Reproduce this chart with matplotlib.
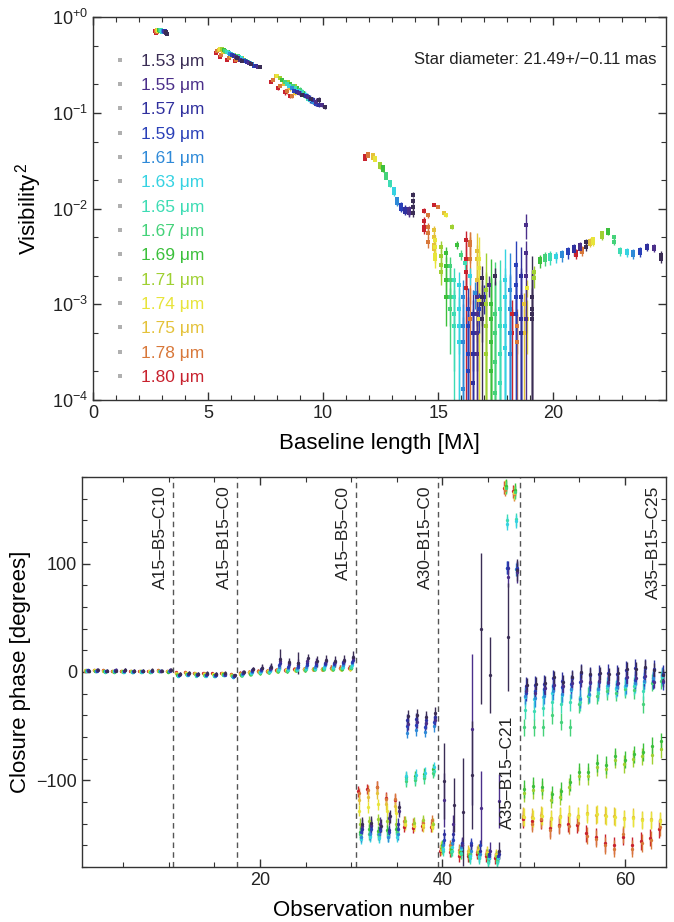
import matplotlib
matplotlib.use("Agg")

import matplotlib.pyplot as plt
import numpy as np
from matplotlib.lines import Line2D
from matplotlib.ticker import FixedLocator, FixedFormatter, MultipleLocator, LogLocator, NullFormatter

plt.rcParams["font.family"] = ["Liberation Sans", "DejaVu Sans"]
plt.rcParams["mathtext.fontset"] = "custom"
plt.rcParams["mathtext.rm"] = "Liberation Sans"
plt.rcParams["mathtext.it"] = "Liberation Sans:italic"
plt.rcParams["mathtext.bf"] = "Liberation Sans:bold"

# spectral channels (micron) and their colours
WAVELENGTHS = [1.53, 1.55, 1.57, 1.59, 1.61, 1.63, 1.65, 1.67, 1.69, 1.71, 1.74, 1.75, 1.78, 1.80]
WL_COLORS = ["#3a2d55", "#4b2f8a", "#30309e", "#2a40b8", "#2f8ad8", "#35d2e2", "#3ddcb4",
             "#45d27a", "#3cc03c", "#9fd032", "#e8e43a", "#e4c23a", "#d8783a", "#c8222e"]
WL_LABELS = ["%.2f \u03bcm" % w for w in WAVELENGTHS]

# ---- squared visibilities: one row per observation, columns follow WAVELENGTHS
BASELINES_M = [4.88, 4.95, 9.6, 9.9, 10.5, 11.1, 13.9, 14.5, 15.0, 15.4,
               21.3, 21.3, 21.3, 21.3, 25.9, 25.9, 25.9, 25.9, 26.7,
               29.2, 29.2, 29.2, 29.2, 32.8, 32.8, 37.8, 37.8]
V2_ROWS = [
    [0.70, 0.70, 0.71, 0.71, 0.72, 0.72, 0.73, 0.73, 0.74, 0.74, 0.74, 0.73, 0.72, 0.71],
    [0.67, 0.68, 0.68, 0.69, 0.69, 0.70, 0.70, 0.71, 0.71, 0.72, 0.72, 0.71, 0.69, 0.68],
    [0.37, 0.38, 0.39, 0.40, 0.41, 0.42, 0.43, 0.44, 0.45, 0.46, 0.46, 0.45, 0.44, 0.42],
    [0.35, 0.36, 0.37, 0.38, 0.39, 0.40, 0.41, 0.42, 0.43, 0.43, 0.44, 0.43, 0.40, 0.38],
    [0.32, 0.33, 0.34, 0.35, 0.36, 0.37, 0.38, 0.39, 0.39, 0.40, 0.40, 0.39, 0.37, 0.36],
    [0.30, 0.30, 0.31, 0.31, 0.32, 0.33, 0.34, 0.35, 0.36, 0.37, 0.37, 0.37, 0.36, 0.35],
    [0.155, 0.16, 0.165, 0.17, 0.18, 0.19, 0.20, 0.21, 0.22, 0.23, 0.24, 0.24, 0.22, 0.21],
    [0.14, 0.145, 0.15, 0.155, 0.16, 0.17, 0.18, 0.19, 0.20, 0.21, 0.21, 0.20, 0.19, 0.18],
    [0.135, 0.13, 0.135, 0.14, 0.15, 0.155, 0.165, 0.175, 0.18, 0.19, 0.19, 0.18, 0.17, 0.165],
    [0.115, 0.12, 0.12, 0.125, 0.13, 0.135, 0.14, 0.15, 0.16, 0.17, 0.17, 0.16, 0.15, 0.15],
    [0.012, 0.0098, 0.0096, 0.0104, 0.012, 0.015, 0.018, 0.022, 0.026, 0.028, 0.033, 0.035, 0.036, 0.034],
    [0.009, 0.0094, 0.0100, 0.0108, 0.0125, 0.016, 0.019, 0.023, 0.027, 0.029, 0.034, 0.036, 0.037, 0.035],
    [0.014, 0.0092, 0.0093, 0.0100, 0.0115, 0.0145, 0.0175, 0.021, 0.025, 0.027, 0.032, 0.034, 0.035, 0.033],
    [0.0105, 0.0090, 0.0098, 0.0102, 0.0118, 0.0150, 0.0180, 0.0215, 0.0255, 0.0275, 0.0325, 0.0345, 0.0355, 0.0335],
    [0.0019, 0.0012, 0.0008, 0.0009, 0.0012, 0.0016, 0.0018, 0.0025, 0.0034, 0.0040, 0.0047, 0.0060, 0.0085, 0.0095],
    [0.0012, 0.0008, 0.0005, 0.0006, 0.0006, 0.0009, 0.0012, 0.0018, 0.0025, 0.0032, 0.0040, 0.0050, 0.0065, 0.0075],
    [0.0007, 0.0005, 0.0003, 0.0003, 0.0004, 0.0006, 0.0008, 0.0012, 0.0018, 0.0026, 0.0033, 0.0042, 0.0055, 0.0065],
    [0.0010, 0.0003, 0.00015, 0.0002, 0.00013, 0.0004, 0.0006, 0.0009, 0.0012, 0.0022, 0.0030, 0.0038, 0.0045, 0.0060],
    [0.0020, 0.0016, 0.0012, 0.0009, 0.0013, 0.0020, 0.0027, 0.0033, 0.0042, 0.0065, 0.0085, 0.0090, 0.0105, 0.0110],
    [0.0009, 0.0034, 0.0012, 0.0016, 0.0009, 0.0012, 0.0006, 0.0005, 0.0007, 0.0010, 0.0024, 0.0030, 0.0045, 0.0047],
    [0.0008, 0.0020, 0.0007, 0.0012, 0.0005, 0.0006, 0.0003, 0.00025, 0.0004, 0.0006, 0.0011, 0.0018, 0.0042, 0.0030],
    [0.0007, 0.0007, 0.0005, 0.0008, 0.0003, 0.00035, 0.00015, 0.00012, 0.0002, 0.0003, 0.0007, 0.0012, 0.0007, 0.0022],
    [0.0012, 0.0068, 0.0020, 0.0026, 0.0014, 0.0018, 0.0009, 0.0008, 0.0010, 0.0014, 0.0030, 0.0036, 0.0030, 0.0015],
    [0.0045, 0.0042, 0.0040, 0.0037, 0.0034, 0.0032, 0.0033, 0.0032, 0.0030, 0.0022, 0.0015, 0.0010, 0.0006, 0.0008],
    [0.0040, 0.0038, 0.0036, 0.0034, 0.0032, 0.0031, 0.0030, 0.0029, 0.0028, 0.0019, 0.0007, 0.0005, 0.0004, 0.0005],
    [0.0033, 0.0040, 0.0041, 0.0037, 0.0035, 0.0036, 0.0037, 0.0050, 0.0060, 0.0055, 0.0048, 0.0046, 0.0038, 0.0035],
    [0.0030, 0.0038, 0.0039, 0.0034, 0.0033, 0.0034, 0.0035, 0.0045, 0.0056, 0.0050, 0.0044, 0.0043, 0.0035, 0.0033],
]
V2_ERR = [0.01, 0.01, 0.006, 0.006, 0.006, 0.006, 0.005, 0.005, 0.012, 0.006,
          0.0008, 0.0008, 0.0008, 0.0008, 0.0006, 0.0006, 0.0006, 0.0006, 0.0004,
          0.0012, 0.0015, 0.0008, 0.002, 0.0003, 0.0004, 0.0003, 0.0003]

STAR_DIAMETER = "Star diameter: 21.49+/\u22120.11 mas"

# ---- closure phases (deg): one row per observation number 1..64
CP_ROWS = [
    [1, 1, 2, 2, 2, 1, 1, 1, 1, 2, 2, 2, 1, 1],
    [2, 2, 2, 1, 1, 1, 1, 1, 1, 1, 2, 2, 2, 2],
    [1, 1, 1, 1, 1, 1, 0, 0, 1, 1, 1, 1, 2, 2],
    [1, 2, 2, 1, 1, 1, 1, 0, 0, 1, 1, 1, 1, 1],
    [2, 2, 1, 1, 1, 0, 0, 0, 1, 1, 1, 1, 1, 1],
    [1, 1, 1, 1, 0, 0, 0, 0, 0, 1, 1, 1, 1, 1],
    [1, 1, 1, 1, 1, 0, 0, 0, 1, 1, 1, 1, 1, 1],
    [2, 1, 1, 1, 1, 1, 0, 0, 0, 0, 1, 1, 1, 1],
    [1, 1, 1, 1, 1, 1, 1, 1, 1, 1, 1, 1, 2, 2],
    [2, 2, 2, 1, 1, 1, 1, 1, 0, 0, 1, 1, 1, 1],
    [-2, -2, -3, -3, -3, -4, -4, -3, -3, -2, -2, -1, -1, 0],
    [-1, -1, -2, -2, -3, -3, -3, -2, -2, -2, -1, -1, 0, 0],
    [-2, -2, -2, -3, -3, -3, -4, -3, -3, -2, -2, -1, -1, -1],
    [-1, -2, -2, -3, -3, -4, -4, -3, -3, -3, -2, -2, -1, -1],
    [-2, -2, -3, -3, -4, -4, -4, -4, -3, -3, -2, -2, -2, -1],
    [-1, -2, -2, -3, -3, -3, -3, -3, -2, -2, -2, -1, -1, -1],
    [-3, -3, -4, -4, -5, -5, -5, -4, -4, -3, -3, -3, -2, -2],
    [0, 0, -1, -1, -2, -2, -3, -3, -3, -2, -2, -2, -1, -1],
    [3, 3, 2, 1, 0, -1, -1, -2, -2, -1, -1, 0, 0, 0],
    [4, 4, 3, 2, 1, 0, 0, -1, -1, 0, 0, 0, 1, 1],
    [5, 4, 4, 3, 2, 1, 0, 0, 0, 0, 1, 1, 1, 1],
    [12, 10, 8, 6, 5, 3, 2, 1, 1, 1, 1, 2, 2, 2],
    [9, 8, 7, 5, 4, 3, 2, 1, 1, 1, 2, 2, 2, 2],
    [8, 8, 6, 5, 4, 3, 2, 2, 2, 2, 2, 2, 3, 3],
    [13, 10, 8, 6, 5, 4, 3, 2, 2, 2, 2, 3, 3, 3],
    [10, 9, 8, 6, 5, 4, 3, 3, 3, 3, 3, 3, 3, 3],
    [11, 10, 8, 7, 6, 5, 4, 3, 3, 3, 3, 3, 3, 3],
    [10, 9, 8, 7, 6, 5, 4, 3, 3, 3, 3, 3, 4, 4],
    [11, 10, 9, 8, 6, 5, 4, 4, 3, 3, 3, 3, 4, 4],
    [14, 13, 11, 9, 8, 6, 5, 4, 4, 4, 3, 3, 4, 4],
    [-140, -142, -145, -148, -152, -154, -152, -150, -148, -140, -128, -118, -112, -110],
    [-139, -141, -142, -145, -150, -152, -151, -150, -145, -138, -125, -115, -109, -108],
    [-142, -140, -144, -146, -150, -153, -152, -150, -147, -136, -122, -112, -106, -106],
    [-133, -135, -146, -148, -152, -152, -151, -148, -146, -138, -128, -122, -117, -116],
    [-125, -128, -140, -145, -150, -152, -150, -148, -145, -140, -130, -124, -117, -118],
    [-41, -48, -44, -50, -56, -96, -99, -101, -97, -138, -140, -141, -138, -143],
    [-40, -46, -43, -49, -54, -95, -98, -100, -96, -139, -142, -142, -140, -144],
    [-42, -47, -44, -51, -55, -93, -96, -98, -94, -137, -141, -143, -139, -142],
    [-38, -44, -42, -46, -50, -88, -91, -93, -90, -140, -143, -141, -137, -143],
    [-101, -118, -150, -155, -160, -163, -165, -162, -160, -163, -161, -164, -162, -165],
    [-123, -140, -150, -155, -158, -162, -165, -166, -163, -162, -164, -163, -160, -166],
    [-129, -160, -158, -160, -162, -163, -167, -168, -166, -165, -168, -166, -164, -170],
    [-95, -53, -160, -158, -165, -170, -172, -168, -170, -168, -167, -165, -168, -170],
    [40, -126, -165, -160, -168, -170, -172, -170, -168, -166, -165, -164, -166, -168],
    [-3, -165, -168, -170, -168, -172, -175, -173, -170, -168, -167, -166, -168, -170],
    [-165, -119, -168, -170, -170, -172, -175, -174, -172, -170, -169, -168, -170, -172],
    [32, 88, 96, 96, 96, 137, 140, 170, 172, 171, 171, 170, 168, 170],
    [94, 92, 95, 96, 95, 139, 141, 166, 168, 167, 166, 165, 164, 167],
    [-12, -18, -13, -19, -22, -23, -35, -51, -108, -112, -134, -133, -134, -136],
    [-11, -19, -12, -18, -24, -25, -36, -51, -105, -109, -135, -134, -140, -138],
    [-10, -15, -11, -16, -22, -23, -33, -51, -106, -109, -133, -132, -136, -137],
    [-5, -12, -6, -13, -18, -19, -28, -40, -113, -118, -136, -135, -146, -144],
    [-9, -13, -8, -14, -20, -21, -30, -46, -110, -115, -134, -133, -142, -141],
    [-5, -10, -6, -11, -16, -17, -28, -51, -102, -106, -132, -131, -142, -140],
    [0, -8, -1, -9, -25, -24, -28, -30, -92, -96, -134, -133, -139, -141],
    [-2, -9, -3, -10, -20, -21, -21, -22, -92, -96, -131, -130, -151, -149],
    [-1, -8, -2, -9, -16, -17, -19, -22, -84, -88, -131, -132, -154, -152],
    [-2, -9, -1, -10, -12, -13, -15, -18, -86, -90, -133, -132, -160, -158],
    [-1, -10, -2, -11, -14, -15, -16, -19, -78, -81, -134, -133, -163, -160],
    [3, -5, 2, -6, -12, -13, -14, -16, -81, -85, -136, -135, -150, -152],
    [3, -6, 4, -7, -10, -11, -13, -17, -76, -80, -135, -134, -163, -160],
    [5, -4, 4, -5, -8, -9, -18, -30, -74, -78, -137, -136, -158, -156],
    [2, -9, 3, -8, -6, -7, -8, -10, -68, -77, -137, -136, -155, -153],
    [-3, -8, -2, -9, -3, -4, -5, -8, -64, -71, -138, -137, -143, -145],
]
# errors: 1.53 um channel, 1.55 um channel, all other channels
CP_ERR_153 = [1.5, 1.5, 1.5, 1.5, 1.5, 1.5, 1.5, 1.5, 1.5, 1.5,
              1.5, 1.5, 1.5, 1.5, 1.5, 1.5, 1.5,
              2, 2, 3, 3, 9, 4, 10, 4, 5, 5, 5, 5, 5,
              6, 6, 6, 6, 6, 6, 6, 6, 6,
              35, 25, 50, 50, 70, 35, 8, 50, 10,
              6, 6, 6, 6, 6, 6, 6, 6, 6, 6, 6, 6, 6, 6, 6, 6]
CP_ERR_155 = [1.5, 1.5, 1.5, 1.5, 1.5, 1.5, 1.5, 1.5, 1.5, 1.5,
              1.5, 1.5, 1.5, 1.5, 1.5, 1.5, 1.5,
              2, 2, 2, 3, 4, 3, 4, 3, 4, 3, 3, 3, 3,
              6, 6, 6, 6, 6, 6, 6, 6, 6,
              25, 8, 8, 70, 35, 8, 25, 10, 10,
              6, 6, 6, 6, 6, 6, 6, 6, 6, 6, 6, 6, 6, 6, 6, 6]
CP_ERR_OTHER = [1, 1, 1, 1, 1, 1, 1, 1, 1, 1,
                1, 1, 1, 1, 1, 1, 1,
                2, 2, 2, 2, 2, 2, 2, 2, 2, 2, 2, 2, 2,
                5, 5, 5, 5, 5, 5, 5, 5, 5,
                5, 5, 5, 5, 5, 5, 5, 6, 6,
                8, 8, 8, 8, 8, 8, 8, 8, 8, 8, 8, 8, 8, 8, 8, 8]

CONFIG_LABELS = ["A15\u2013B5\u2013C10", "A15\u2013B15\u2013C0", "A15\u2013B5\u2013C0",
                 "A30\u2013B15\u2013C0", "A35\u2013B15\u2013C21", "A35\u2013B15\u2013C25"]
CONFIG_LAST_OBS = [10, 17, 30, 39, 48, 64]

SPINE = "#333333"


def style_axes(ax):
    for s in ax.spines.values():
        s.set_color(SPINE)
        s.set_linewidth(1.0)
    ax.tick_params(which="both", direction="in", top=True, right=True, colors=SPINE,
                   labelcolor="#222222", labelsize=13)
    ax.tick_params(which="major", length=6, width=1.0)
    ax.tick_params(which="minor", length=3.5, width=0.8)


fig = plt.figure(figsize=(6.74, 9.22), dpi=100)
ax1 = fig.add_axes([0.138, 0.566, 0.850, 0.4155])
ax2 = fig.add_axes([0.1217, 0.0597, 0.8665, 0.4230])

# ---------------- visibility panel
base = np.array(BASELINES_M)
v2 = np.array(V2_ROWS)
v2err = np.array(V2_ERR)
for j in range(len(WAVELENGTHS) - 1, -1, -1):
    x = base / WAVELENGTHS[j]
    y = v2[:, j]
    lower = np.minimum(v2err, y - 1e-6)
    ax1.errorbar(x, y, yerr=[lower, v2err], fmt="s", ms=2.6, mew=0,
                 color=WL_COLORS[j], ecolor=WL_COLORS[j], elinewidth=1.0, capsize=0)

ax1.set_yscale("log")
ax1.set_xlim(0, 24.9)
ax1.set_ylim(1e-4, 1)
ax1.xaxis.set_major_locator(MultipleLocator(5))
ax1.xaxis.set_minor_locator(MultipleLocator(1))
ax1.yaxis.set_major_locator(FixedLocator([1e-4, 1e-3, 1e-2, 1e-1, 1]))
ax1.yaxis.set_major_formatter(FixedFormatter(["10$^{-4}$", "10$^{-3}$", "10$^{-2}$",
                                               "10$^{-1}$", "10$^{+0}$"]))
ax1.yaxis.set_minor_locator(LogLocator(base=10, subs=(2, 5)))
ax1.yaxis.set_minor_formatter(NullFormatter())
style_axes(ax1)
ax1.set_xlabel("Baseline length [M\u03bb]", fontsize=16, labelpad=8)
ax1.set_ylabel("Visibility$^{\\,2}$", fontsize=16, labelpad=6)
ax1.text(0.984, 0.888, STAR_DIAMETER, transform=ax1.transAxes, ha="right", va="center",
         fontsize=12, color="#222222")

handles = [Line2D([], [], ls="none", marker="s", ms=2.6, mew=0, color="#b0b0b0")
           for _ in WAVELENGTHS]
leg = ax1.legend(handles, WL_LABELS, loc="upper left", bbox_to_anchor=(0.038, 0.905),
                 frameon=False, fontsize=12.5, handlelength=0.6, handletextpad=0.9,
                 labelspacing=0.53, borderaxespad=0, borderpad=0)
for t, c in zip(leg.get_texts(), WL_COLORS):
    t.set_color(c)

# ---------------- closure phase panel
cp = np.array(CP_ROWS)
obs = np.arange(1, len(CP_ROWS) + 1)
dodge = np.linspace(0.22, -0.22, len(WAVELENGTHS))
for j in range(len(WAVELENGTHS) - 1, -1, -1):
    if j == 0:
        err = CP_ERR_153
    elif j == 1:
        err = CP_ERR_155
    else:
        err = CP_ERR_OTHER
    ax2.errorbar(obs + dodge[j], cp[:, j], yerr=err, fmt="o", ms=2.4, mew=0,
                 color=WL_COLORS[j], ecolor=WL_COLORS[j], elinewidth=1.0, capsize=0)

for k, (lab, last) in enumerate(zip(CONFIG_LABELS, CONFIG_LAST_OBS)):
    xl = last + 0.5
    if k < len(CONFIG_LABELS) - 1:
        ax2.axvline(xl, color="#555555", lw=1.0, ls=(0, (4, 3)))
    ytop = -40 if lab.endswith("C21") else 172
    ax2.text(xl - 0.55, ytop, lab, rotation=90, ha="right", va="top", fontsize=12.5,
             color="#222222")

ax2.set_xlim(0.5, 64.5)
ax2.set_ylim(-180, 180)
ax2.xaxis.set_major_locator(MultipleLocator(20))
ax2.xaxis.set_minor_locator(MultipleLocator(5))
ax2.yaxis.set_major_locator(MultipleLocator(100))
ax2.yaxis.set_minor_locator(MultipleLocator(20))
style_axes(ax2)
ax2.set_xlabel("Observation number", fontsize=16, labelpad=8)
ax2.set_ylabel("Closure phase [degrees]", fontsize=16, labelpad=4)

fig.savefig("out.png", dpi=100)
